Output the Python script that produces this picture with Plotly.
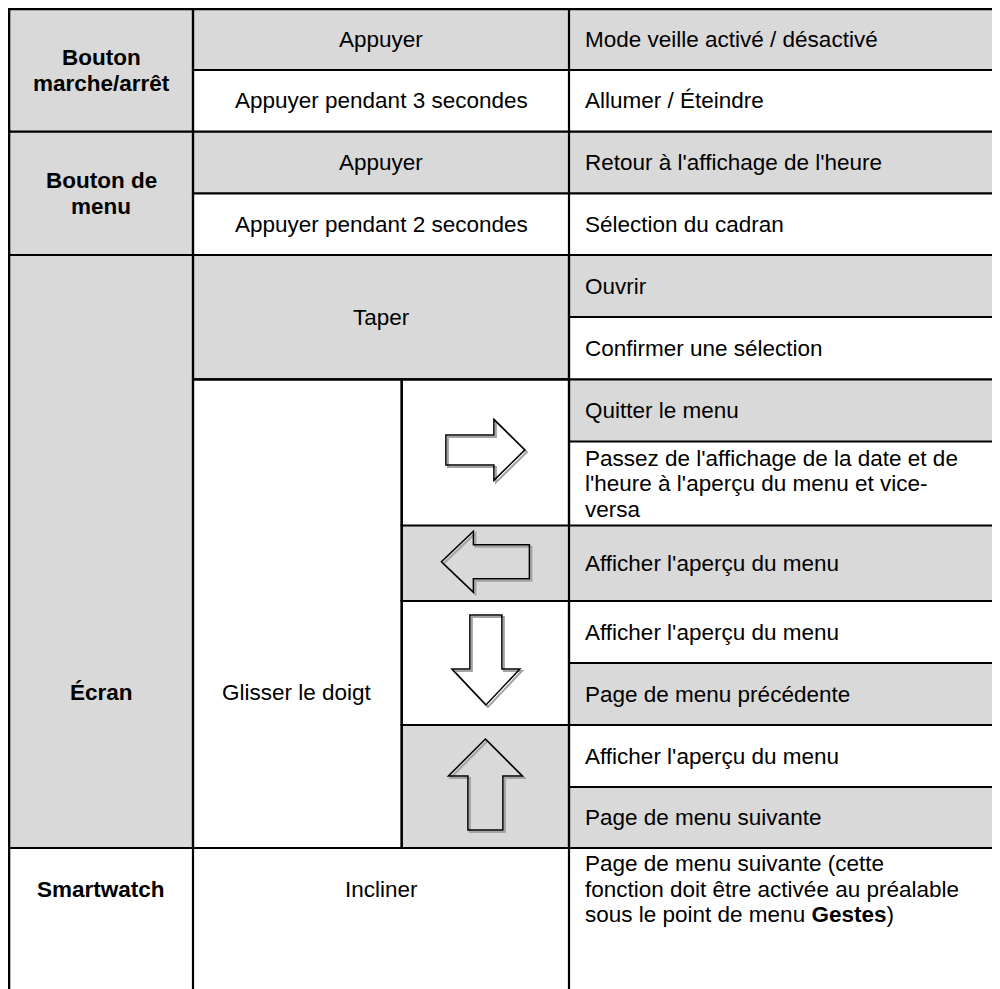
import plotly.graph_objects as go

# ---------------- data (table content) ----------------
controls = ["Bouton<br>marche/arrêt", "Bouton de<br>menu", "Écran", "Smartwatch"]
actions = [
    "Appuyer",
    "Appuyer pendant 3 secondes",
    "Appuyer",
    "Appuyer pendant 2 secondes",
    "Taper",
    "Glisser le doigt",
    "Incliner",
]
swipe_directions = ["right", "left", "down", "up"]
functions = [
    "Mode veille activé / désactivé",
    "Allumer / Éteindre",
    "Retour à l'affichage de l'heure",
    "Sélection du cadran",
    "Ouvrir",
    "Confirmer une sélection",
    "Quitter le menu",
    "Passez de l'affichage de la date et de<br>l'heure à l'aperçu du menu et vice-<br>versa",
    "Afficher l'aperçu du menu",
    "Afficher l'aperçu du menu",
    "Page de menu précédente",
    "Afficher l'aperçu du menu",
    "Page de menu suivante",
    "Page de menu suivante (cette<br>fonction doit être activée au préalable<br>sous le point de menu <b>Gestes</b>)",
]

# ---------------- layout (grid geometry and styles, in page pixels) ----------------
W, H = 1000, 989
OFF = 8  # page body margin
X_MIN, X_MAX = OFF, W + OFF
Y_MIN, Y_MAX = OFF, H + OFF
COL_X = [9, 193, 401.7, 569, 1010]
LINE_RIGHT = 997
ROW_Y = [9, 70, 131.7, 193.3, 255, 317, 379.3, 441.5, 525.5, 601, 663, 725, 787, 848, 1010]
GRAY = "#d9d9d9"
WHITE = "#ffffff"
FONT = "Liberation Sans, Arial, Helvetica, sans-serif"
FSIZE = 22.5
LINE_SP = 25.5
LW = 2.2
LW_OUT = 2.6
PAD = 14
LAST_TEXT_Y = 889

control_rows = [(0, 2), (2, 4), (4, 13), (13, 14)]
control_fill = [GRAY, GRAY, GRAY, WHITE]
control_text_y = {2: 692}

action_rows = [(0, 1), (1, 2), (2, 3), (3, 4), (4, 6), (6, 13), (13, 14)]
action_cols = [(1, 3), (1, 3), (1, 3), (1, 3), (1, 3), (1, 2), (1, 3)]
action_fill = [GRAY, WHITE, GRAY, WHITE, GRAY, WHITE, WHITE]
action_text_y = {5: 692}

swipe_rows = [(6, 8), (8, 9), (9, 11), (11, 13)]
swipe_fill = [WHITE, GRAY, WHITE, GRAY]
# length, shaft thickness, head width, head length
arrow_spec = {
    "right": (79, 30, 61, 31),
    "left": (88, 34, 61, 32),
    "down": (90, 32, 68, 36),
    "up": (91, 35, 74, 37),
}
arrow_shift = {"right": (0, -2.5), "left": (0, -1.5), "down": (0.5, -3), "up": (0, -2)}

func_fill = [GRAY if i % 2 == 0 else WHITE for i in range(len(functions))]

shapes = []
annotations = []


def add_cell(c0, c1, r0, r1, fill):
    shapes.append(dict(type="rect", xref="x", yref="y",
                       x0=COL_X[c0], x1=COL_X[c1], y0=ROW_Y[r0], y1=ROW_Y[r1],
                       fillcolor=fill, line=dict(width=0), layer="below"))


def add_text(text, x, y, align):
    lines = text.split("<br>")
    n = len(lines)
    for k, ln in enumerate(lines):
        yy = y + (k - (n - 1) / 2) * LINE_SP
        annotations.append(dict(
            x=x, y=yy, xref="x", yref="y", text=ln, showarrow=False,
            xanchor="center" if align == "center" else "left", yanchor="middle",
            font=dict(family=FONT, size=FSIZE, color="#000000"),
        ))


lines_h = set()
lines_v = set()


def add_borders(c0, c1, r0, r1):
    x0 = COL_X[c0]
    x1 = COL_X[c1] if c1 < len(COL_X) - 1 else LINE_RIGHT
    y0, y1 = ROW_Y[r0], ROW_Y[r1]
    lines_h.add((x0, x1, y0))
    if r1 < len(ROW_Y) - 1:
        lines_h.add((x0, x1, y1))
    lines_v.add((x0, y0, y1))
    if c1 < len(COL_X) - 1:
        lines_v.add((COL_X[c1], y0, y1))


def center_y(r0, r1):
    if r1 == len(ROW_Y) - 1:
        return LAST_TEXT_Y
    return (ROW_Y[r0] + ROW_Y[r1]) / 2


# controls column
for i, ((r0, r1), txt, fill) in enumerate(zip(control_rows, controls, control_fill)):
    add_cell(0, 1, r0, r1, fill)
    add_borders(0, 1, r0, r1)
    cx = (COL_X[0] + COL_X[1]) / 2
    cy = control_text_y.get(i, center_y(r0, r1))
    bold = "<br>".join("<b>" + p + "</b>" for p in txt.split("<br>"))
    add_text(bold, cx, cy, "center")

# actions column
for i, ((r0, r1), (c0, c1), txt, fill) in enumerate(zip(action_rows, action_cols, actions, action_fill)):
    add_cell(c0, c1, r0, r1, fill)
    add_borders(c0, c1, r0, r1)
    cx = (COL_X[c0] + COL_X[c1]) / 2
    cy = action_text_y.get(i, center_y(r0, r1))
    add_text(txt, cx, cy, "center")


def arrow_points(cx, cy, d, L, s, hw, hl):
    hb = L / 2 - hl
    local = [(-L / 2, -s / 2), (hb, -s / 2), (hb, -hw / 2), (L / 2, 0),
             (hb, hw / 2), (hb, s / 2), (-L / 2, s / 2)]
    pts = []
    for u, v in local:
        if d == "right":
            pts.append((cx + u, cy + v))
        elif d == "left":
            pts.append((cx - u, cy + v))
        elif d == "down":
            pts.append((cx + v, cy + u))
        else:
            pts.append((cx + v, cy - u))
    return pts


def path_of(pts, dx=0, dy=0):
    return "M " + " L ".join(f"{x + dx:.1f},{y + dy:.1f}" for x, y in pts) + " Z"


arrow_shapes = []
for (r0, r1), d, fill in zip(swipe_rows, swipe_directions, swipe_fill):
    add_cell(2, 3, r0, r1, fill)
    add_borders(2, 3, r0, r1)
    cx = (COL_X[2] + COL_X[3]) / 2 + arrow_shift[d][0]
    cy = (ROW_Y[r0] + ROW_Y[r1]) / 2 + arrow_shift[d][1]
    pts = arrow_points(cx, cy, d, *arrow_spec[d])
    arrow_shapes.append(dict(type="path", xref="x", yref="y", path=path_of(pts, 2, 2),
                             line=dict(color="#a3a3a3", width=2), fillcolor="rgba(0,0,0,0)"))
    arrow_shapes.append(dict(type="path", xref="x", yref="y", path=path_of(pts),
                             line=dict(color="#000000", width=1.5), fillcolor="rgba(0,0,0,0)"))

# functions column
for i, (txt, fill) in enumerate(zip(functions, func_fill)):
    add_cell(3, 4, i, i + 1, fill)
    add_borders(3, 4, i, i + 1)
    add_text(txt, COL_X[3] + PAD, center_y(i, i + 1), "left")

for x0, x1, y in sorted(lines_h):
    w = LW_OUT if y == ROW_Y[0] else LW
    shapes.append(dict(type="line", xref="x", yref="y", x0=x0 - 1, x1=x1, y0=y, y1=y,
                       line=dict(color="#000000", width=w)))
for x, y0, y1 in sorted(lines_v):
    w = LW_OUT if x == COL_X[0] else LW
    shapes.append(dict(type="line", xref="x", yref="y", x0=x, x1=x, y0=y0 - 1, y1=y1,
                       line=dict(color="#000000", width=w)))
shapes.extend(arrow_shapes)

fig = go.Figure()
fig.update_layout(
    width=W, height=H,
    margin=dict(l=0, r=0, t=0, b=0),
    paper_bgcolor="#ffffff", plot_bgcolor="#ffffff",
    xaxis=dict(range=[X_MIN, X_MAX], visible=False, fixedrange=True),
    yaxis=dict(range=[Y_MAX, Y_MIN], visible=False, fixedrange=True),
    shapes=shapes, annotations=annotations, showlegend=False,
)
fig.write_html("out.html", config={"displayModeBar": False})
